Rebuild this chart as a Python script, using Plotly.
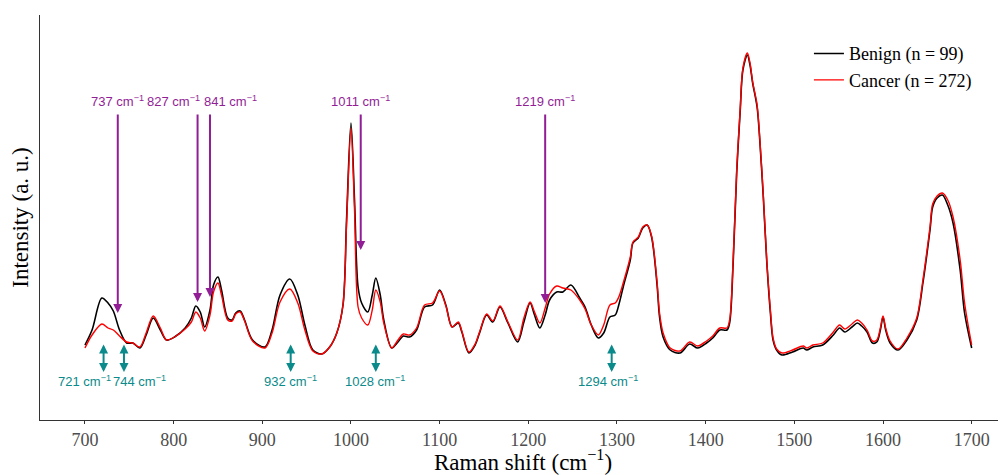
import plotly.graph_objects as go

# Raman shift (cm^-1)
wavenumber = [
    700, 708, 719, 726, 732, 739, 747, 754, 762, 769,
    777, 785, 792, 801, 813, 820, 825, 830, 835, 841,
    845, 850, 854, 861, 866, 870, 875, 880, 889, 903,
    911, 920, 931, 940, 948, 957, 967, 976, 984, 991,
    995, 1000, 1004, 1008, 1012, 1019, 1024, 1028, 1033, 1037,
    1046, 1053, 1059, 1066, 1074, 1083, 1092, 1100, 1107, 1114,
    1121, 1125, 1133, 1140, 1145, 1153, 1160, 1168, 1177, 1188,
    1195, 1202, 1207, 1213, 1219, 1224, 1232, 1239, 1248, 1258,
    1264, 1271, 1279, 1285, 1292, 1298, 1302, 1307, 1315, 1318,
    1324, 1329, 1334, 1339, 1345, 1348, 1352, 1360, 1371, 1382,
    1391, 1401, 1408, 1416, 1424, 1427, 1431, 1435, 1439, 1442,
    1447, 1450, 1453, 1458, 1461, 1465, 1469, 1473, 1476, 1480,
    1486, 1498, 1510, 1514, 1521, 1532, 1544, 1551, 1557, 1565,
    1571, 1576, 1582, 1588, 1593, 1597, 1600, 1603, 1608, 1617,
    1627, 1638, 1645, 1653, 1656, 1661, 1667, 1673, 1679, 1687,
    1692, 1700,
]

benign = [
    0.75, 0.90, 1.22, 1.17, 1.09, 0.90, 0.77, 0.77, 0.72, 0.85,
    1.02, 0.90, 0.80, 0.83, 0.92, 1.02, 1.14, 1.08, 0.93, 1.10,
    1.35, 1.43, 1.30, 1.02, 1.00, 1.07, 1.09, 1.00, 0.80, 0.73,
    0.90, 1.25, 1.41, 1.25, 0.95, 0.70, 0.66, 0.73, 0.87, 1.15,
    2.00, 2.97, 2.20, 1.33, 1.17, 1.08, 1.25, 1.42, 1.25, 1.00,
    0.72, 0.78, 0.84, 0.83, 0.90, 1.13, 1.15, 1.30, 1.15, 0.93,
    0.97, 0.88, 0.67, 0.75, 0.87, 1.05, 0.98, 1.13, 0.97, 0.78,
    0.98, 1.17, 1.05, 0.92, 1.05, 1.20, 1.28, 1.28, 1.35, 1.22,
    1.13, 0.95, 0.82, 0.87, 1.03, 1.05, 1.15, 1.33, 1.60, 1.77,
    1.82, 1.92, 1.95, 1.83, 1.37, 1.03, 0.83, 0.70, 0.67, 0.76,
    0.72, 0.77, 0.82, 0.90, 0.90, 0.97, 1.57, 2.47, 3.10, 3.50,
    3.65, 3.55, 3.37, 3.13, 2.80, 2.23, 1.57, 1.07, 0.80, 0.70,
    0.65, 0.68, 0.72, 0.70, 0.73, 0.75, 0.85, 0.92, 0.88, 0.93,
    0.97, 0.94, 0.88, 0.77, 0.78, 0.90, 1.03, 0.90, 0.77, 0.70,
    0.80, 1.00, 1.37, 1.90, 2.13, 2.22, 2.25, 2.15, 1.97, 1.50,
    1.07, 0.72,
]

cancer = [
    0.72, 0.85, 0.96, 0.92, 0.90, 0.84, 0.78, 0.77, 0.73, 0.87,
    1.04, 0.92, 0.80, 0.83, 0.91, 0.98, 1.08, 1.02, 0.89, 1.05,
    1.28, 1.37, 1.25, 1.00, 0.99, 1.06, 1.08, 0.99, 0.79, 0.72,
    0.87, 1.18, 1.31, 1.17, 0.90, 0.69, 0.66, 0.73, 0.87, 1.15,
    1.95, 2.92, 2.10, 1.13, 1.02, 0.95, 1.10, 1.30, 1.18, 0.97,
    0.72, 0.80, 0.86, 0.85, 0.92, 1.15, 1.17, 1.29, 1.14, 0.93,
    0.98, 0.89, 0.68, 0.76, 0.88, 1.06, 0.99, 1.14, 0.98, 0.80,
    1.02, 1.18, 1.08, 0.97, 1.12, 1.26, 1.34, 1.32, 1.30, 1.20,
    1.11, 0.95, 0.85, 0.95, 1.15, 1.17, 1.23, 1.37, 1.63, 1.78,
    1.83, 1.93, 1.95, 1.84, 1.40, 1.07, 0.87, 0.72, 0.69, 0.78,
    0.74, 0.79, 0.84, 0.92, 0.92, 1.00, 1.60, 2.50, 3.12, 3.52,
    3.67, 3.57, 3.38, 3.15, 2.82, 2.25, 1.58, 1.10, 0.82, 0.71,
    0.67, 0.70, 0.74, 0.72, 0.75, 0.77, 0.88, 0.95, 0.91, 0.96,
    1.00, 0.97, 0.90, 0.79, 0.80, 0.92, 1.04, 0.92, 0.79, 0.71,
    0.82, 1.02, 1.40, 1.93, 2.16, 2.24, 2.27, 2.20, 2.03, 1.60,
    1.17, 0.75,
]

# Bands higher in benign (purple, pointing down)
up_bands = [737, 827, 841, 1011, 1219]
up_label_x = [737, 800, 864, 1011, 1219]
up_tip_y = [1.07, 1.18, 1.23, 1.70, 1.17]
up_tail_y = 3.07
up_label_y = 3.19

# Bands higher in cancer (teal, double arrows)
down_bands = [721, 744, 932, 1028, 1294]
down_label_x = [700, 762, 932, 1027, 1290]
down_top_y = 0.77
down_bot_y = 0.48
down_label_y = 0.39

tick_vals = [700, 800, 900, 1000, 1100, 1200, 1300, 1400, 1500, 1600, 1700]

PURPLE = "#921E96"
TEAL = "#0A8A8A"
SERIF = "Liberation Serif, Times New Roman, serif"
SANS = "Liberation Sans, Arial, sans-serif"

fig = go.Figure()
fig.add_trace(go.Scatter(x=wavenumber, y=benign, mode="lines", name="Benign (n = 99)",
                         line=dict(color="#000000", width=1.6, shape="spline", smoothing=0.9),
                         legendgroup="b"))
fig.add_trace(go.Scatter(x=wavenumber, y=cancer, mode="lines", name="Cancer (n = 272)",
                         line=dict(color="#FF0000", width=1.4, shape="spline", smoothing=0.9),
                         legendgroup="c"))

annotations = []
for b, lx, ty in zip(up_bands, up_label_x, up_tip_y):
    annotations.append(dict(x=b, y=ty, ax=b, ay=up_tail_y, xref="x", yref="y",
                            axref="x", ayref="y", text="", showarrow=True,
                            arrowhead=2, arrowsize=0.9, arrowwidth=2, arrowcolor=PURPLE))
    annotations.append(dict(x=lx, y=up_label_y, xref="x", yref="y", showarrow=False,
                            text=f"{b} cm<sup>\u22121</sup>",
                            font=dict(family=SANS, size=13, color=PURPLE)))
for b, lx in zip(down_bands, down_label_x):
    annotations.append(dict(x=b, y=down_bot_y, ax=b, ay=down_top_y, xref="x", yref="y",
                            axref="x", ayref="y", text="", showarrow=True,
                            arrowhead=2, startarrowhead=2, arrowside="end+start",
                            arrowsize=0.9, startarrowsize=0.9, arrowwidth=2, arrowcolor=TEAL))
    annotations.append(dict(x=lx, y=down_label_y, xref="x", yref="y", showarrow=False,
                            text=f"{b} cm<sup>\u22121</sup>",
                            font=dict(family=SANS, size=13, color=TEAL)))

# page body has an 8px margin, so the figure is sized to fill the rest of the window
fig.update_layout(
    width=998, height=467,
    margin=dict(l=32, r=0, t=7, b=55),
    plot_bgcolor="white", paper_bgcolor="white",
    annotations=annotations,
    legend=dict(x=0.796, y=0.95, xanchor="left", yanchor="top",
                font=dict(family=SERIF, size=18, color="black"),
                bgcolor="rgba(0,0,0,0)", tracegroupgap=0, itemwidth=30),
    showlegend=True,
)
fig.update_xaxes(range=[649.3, 1738.7], tickvals=tick_vals, ticktext=[str(t) for t in tick_vals],
                 showline=True, linecolor="#333333", linewidth=1, ticks="outside",
                 ticklen=3, tickcolor="#333333", showgrid=False, zeroline=False,
                 automargin=False,
                 tickfont=dict(family=SERIF, size=18, color="#4d4d4d"),
                 title=dict(text="Raman shift (cm<sup>\u22121</sup>)", standoff=6,
                            font=dict(family=SERIF, size=23, color="black")))
fig.update_yaxes(range=[0, 4.05], showticklabels=False, ticks="", showline=True,
                 linecolor="#333333", linewidth=1, showgrid=False, zeroline=False,
                 automargin=False,
                 title=dict(text="Intensity (a. u.)", standoff=6,
                            font=dict(family=SERIF, size=23, color="black")))

fig.write_html("out.html")
